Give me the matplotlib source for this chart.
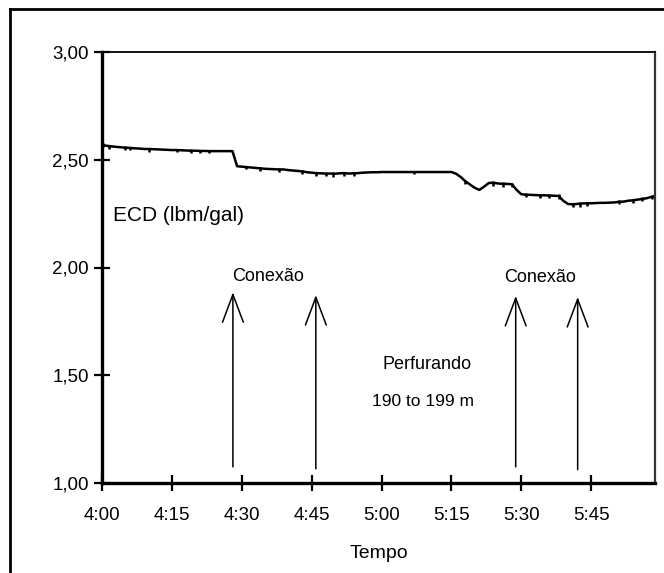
import numpy as np
import matplotlib as mpl
mpl.use('Agg')
import matplotlib.pyplot as plt
from matplotlib.lines import Line2D

mpl.rcParams['font.family'] = ['Liberation Sans', 'DejaVu Sans']

# minutes after 4:00, one value per minute (ECD, lbm/gal)
minutes = list(range(120))
ecd = [2.568, 2.565, 2.562, 2.560, 2.558, 2.556, 2.555, 2.553, 2.552, 2.550,
       2.550, 2.549, 2.548, 2.547, 2.546, 2.545, 2.545, 2.544, 2.543, 2.542,
       2.542, 2.541, 2.541, 2.540, 2.540, 2.540, 2.540, 2.540, 2.540, 2.470,
       2.468, 2.466, 2.464, 2.462, 2.460, 2.458, 2.457, 2.456, 2.455, 2.455,
       2.452, 2.450, 2.448, 2.446, 2.442, 2.440, 2.438, 2.437, 2.436, 2.436,
       2.435, 2.437, 2.438, 2.436, 2.437, 2.438, 2.440, 2.441, 2.442, 2.442,
       2.443, 2.443, 2.443, 2.443, 2.443, 2.443, 2.443, 2.443, 2.443, 2.443,
       2.443, 2.443, 2.443, 2.443, 2.443, 2.443, 2.435, 2.420, 2.400, 2.385,
       2.370, 2.360, 2.375, 2.392, 2.393, 2.390, 2.388, 2.388, 2.386, 2.360,
       2.340, 2.338, 2.337, 2.336, 2.335, 2.335, 2.334, 2.333, 2.332, 2.310,
       2.295, 2.293, 2.295, 2.297, 2.298, 2.298, 2.299, 2.300, 2.300, 2.301,
       2.302, 2.305, 2.306, 2.310, 2.312, 2.315, 2.318, 2.322, 2.328, 2.332]

# little noise spikes on the record
spike_t = [0.3, 1.5, 5, 6, 10, 16, 19, 21, 23, 31, 34, 38, 43, 46, 48, 49.5,
           52, 54, 67, 78, 84, 86, 88, 91, 94, 96, 98, 101, 102.5, 104, 111,
           114, 116, 118]
spike_lo = [2.558, 2.552, 2.544, 2.543, 2.538, 2.535, 2.532, 2.530, 2.530,
            2.455, 2.449, 2.444, 2.434, 2.424, 2.423, 2.422, 2.425, 2.424,
            2.433, 2.388, 2.378, 2.375, 2.372, 2.326, 2.323, 2.322, 2.319,
            2.282, 2.283, 2.286, 2.294, 2.300, 2.307, 2.317]
spike_hi = [2.578, 2.570, 2.562, 2.560, 2.556, 2.550, 2.548, 2.547, 2.546,
            2.472, 2.466, 2.460, 2.451, 2.442, 2.440, 2.441, 2.442, 2.442,
            2.448, 2.408, 2.400, 2.395, 2.394, 2.344, 2.342, 2.340, 2.343,
            2.300, 2.302, 2.302, 2.312, 2.318, 2.325, 2.338]

# connection arrows
arrow_t = [28.1, 45.9, 88.8, 102.1]
arrow_bottom = [1.075, 1.066, 1.075, 1.062]
arrow_top = [1.885, 1.872, 1.868, 1.863]

xticks = [0, 15, 30, 45, 60, 75, 90, 105]
xtick_labels = ["4:00", "4:15", "4:30", "4:45", "5:00", "5:15", "5:30", "5:45"]
yticks = [1.0, 1.5, 2.0, 2.5, 3.0]
ytick_labels = ["1,00", "1,50", "2,00", "2,50", "3,00"]

fig = plt.figure(figsize=(6.64, 5.73), dpi=100)
ax = fig.add_axes([102 / 664, 1 - 483 / 573, 553 / 664, 431 / 573])

ax.plot(minutes, ecd, color='black', lw=1.8)
ax.vlines(spike_t, spike_lo, spike_hi, color='black', lw=1.8)

for t, b, tp in zip(arrow_t, arrow_bottom, arrow_top):
    ax.annotate('', xy=(t, tp), xytext=(t, b),
                arrowprops=dict(arrowstyle='->,head_length=2.0,head_width=0.75',
                                lw=1.1, color='black', shrinkA=0, shrinkB=0,
                                mutation_scale=10))

ax.text(2.4, 2.239, "ECD (lbm/gal)", fontsize=15, va='center', ha='left')
ax.text(35.7, 1.96, "Conexão", fontsize=13, ha='center', va='center')
ax.text(94.0, 1.955, "Conexão", fontsize=13, ha='center', va='center')
ax.text(69.7, 1.548, "Perfurando", fontsize=13, ha='center', va='center')
ax.text(68.9, 1.380, "190 to 199 m", fontsize=12.5, ha='center', va='center')

ax.set_xlim(0, 118.7)
ax.set_ylim(1.0, 3.0)
ax.set_xticks(xticks)
ax.set_xticklabels(xtick_labels)
ax.set_yticks(yticks)
ax.set_yticklabels(ytick_labels)
ax.tick_params(direction='inout', length=11, width=1.6, labelsize=13.5)
ax.tick_params(axis='x', pad=12)
ax.tick_params(axis='y', pad=4)
ax.set_xlabel("Tempo", fontsize=14, labelpad=15)

ax.spines['left'].set_linewidth(2.4)
ax.spines['bottom'].set_linewidth(2.4)
ax.spines['top'].set_linewidth(1.3)
ax.spines['right'].set_linewidth(1.6)
ax.spines['right'].set_color('#333333')

# outer frame (only left and top edges visible)
fig.add_artist(Line2D([10 / 664, 10 / 664], [0, 1 - 9 / 573],
                      transform=fig.transFigure, color='black', lw=2.0))
fig.add_artist(Line2D([10 / 664, 1], [1 - 9 / 573, 1 - 9 / 573],
                      transform=fig.transFigure, color='black', lw=2.0))

plt.savefig("out.png", dpi=100)
plt.close(fig)
